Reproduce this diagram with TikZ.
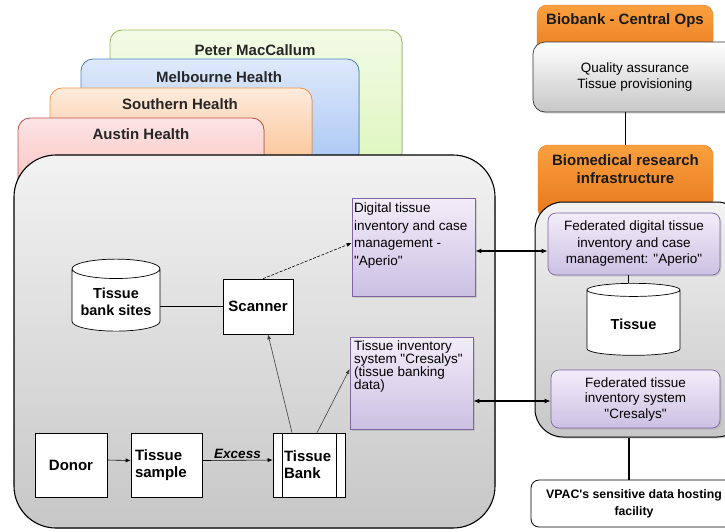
\documentclass[tikz,border=0pt]{standalone}
\usepackage{fontspec}
\setmainfont{Liberation Sans}[Ligatures=TeXOff]
\usetikzlibrary{shapes.geometric,arrows.meta,shadows}
\definecolor{peteredge}{RGB}{155,187,89}
\definecolor{petertop}{RGB}{242,251,230}
\definecolor{peterbot}{RGB}{222,246,190}
\definecolor{melbedge}{RGB}{79,129,189}
\definecolor{melbtop}{RGB}{222,233,250}
\definecolor{melbbot}{RGB}{170,199,245}
\definecolor{southedge}{RGB}{247,150,70}
\definecolor{southtop}{RGB}{253,235,220}
\definecolor{southbot}{RGB}{251,196,150}
\definecolor{austinedge}{RGB}{192,80,77}
\definecolor{austintop}{RGB}{253,228,228}
\definecolor{austinbot}{RGB}{250,190,190}
\definecolor{opstop}{RGB}{250,160,62}
\definecolor{opsbot}{RGB}{230,118,28}
\definecolor{lilacedge}{RGB}{128,100,162}
\definecolor{lilactop}{RGB}{242,237,249}
\definecolor{lilacbot}{RGB}{204,192,227}
\newcommand{\topbox}[3]{\parbox[c][#1][t]{#2}{\raggedright #3}}
\newcommand{\dq}{\symbol{34}}
\tikzset{
  sitetab/.style={rounded corners=12pt, line width=0.8pt},
  tablabel/.style={font=\fontsize{15}{17}\selectfont\bfseries, text=black!85},
  sitebox/.style={draw=black, line width=1.1pt, rounded corners=42pt, top color=black!5, bottom color=black!22},
  plainbox/.style={draw, fill=white, line width=0.6pt, font=\fontsize{15}{17}\selectfont\bfseries},
  lilacbox/.style={draw=lilacedge, top color=lilactop, bottom color=lilacbot, line width=0.7pt,
    drop shadow={opacity=0.25, shadow xshift=1.5pt, shadow yshift=-1.5pt}},
  fedbox/.style={lilacbox, rounded corners=8pt, align=center, font=\fontsize{13.5}{16.5}\selectfont},
  dbcyl/.style={cylinder, shape border rotate=90, aspect=0.25, draw, fill=white, line width=0.7pt,
    align=center, font=\fontsize{14.5}{17}\selectfont\bfseries},
  opstab/.style={rounded corners=10pt, draw=opsbot, top color=opstop, bottom color=opsbot},
  opslabel/.style={align=center, font=\fontsize{15}{18}\selectfont\bfseries, text=black!90},
  link/.style={-{Latex[length=5pt,width=4pt]}, line width=0.6pt},
  biglink/.style={{Latex[length=6pt,width=5pt]}-{Latex[length=6pt,width=5pt]}, line width=1.4pt}
}
\begin{document}
\begin{tikzpicture}[x=1pt,y=-1pt]
\useasboundingbox (0,0) rectangle (725,531);
\clip (0,0) rectangle (725,531);
\filldraw[sitetab, draw=peteredge, top color=petertop, bottom color=peterbot] (110,30) rectangle (402,165);
\filldraw[sitetab, draw=melbedge, top color=melbtop, bottom color=melbbot] (81,59) rectangle (359,165);
\filldraw[sitetab, draw=southedge, top color=southtop, bottom color=southbot] (50,88) rectangle (312,165);
\filldraw[sitetab, draw=austinedge, top color=austintop, bottom color=austinbot] (18,118) rectangle (264,196);
\node[tablabel] (peter) at (255,50) {Peter MacCallum};
\node[tablabel] (melb) at (219,77) {Melbourne Health};
\node[tablabel] (south) at (180,104) {Southern Health};
\node[tablabel] (austin) at (141,134) {Austin Health};
\filldraw[sitebox] (14,155) rectangle (495,528);

\node[dbcyl, minimum width=88pt, minimum height=72pt] (banksites) at (116,302) {Tissue\\bank sites};
\node[plainbox, minimum width=70pt, minimum height=55pt] (scanner) at (258,306.5) {Scanner};
\node[lilacbox, inner xsep=2pt, inner ysep=5pt, font=\fontsize{13.5}{17.5}\selectfont] (digital) at (413.5,247)
  {\topbox{88pt}{119pt}{Digital tissue\\inventory and case\\management -\\\dq Aperio\dq}};
\node[lilacbox, inner xsep=4pt, inner ysep=4pt, font=\fontsize{13.5}{13}\selectfont] (inventory) at (411.5,383)
  {\topbox{84pt}{115pt}{Tissue inventory\\system \dq Cresalys\dq\\(tissue banking\\data)}};
\node[plainbox, minimum width=72pt, minimum height=64pt] (donor) at (71,465) {Donor};
\node[plainbox, minimum height=64pt, text width=63pt, inner xsep=4pt, align=left] (sample) at (166.5,465.5) {Tissue\\sample};
\node[plainbox, minimum height=64pt, text width=50pt, inner xsep=11pt, align=left,
  path picture={
    \draw ([xshift=9pt]path picture bounding box.north west) -- ([xshift=9pt]path picture bounding box.south west);
    \draw ([xshift=-9pt]path picture bounding box.north east) -- ([xshift=-9pt]path picture bounding box.south east);
  }] (bank) at (309,465) {Tissue\\Bank};

\node[opstab, minimum width=176pt, minimum height=60pt] (opstab) at (625,35) {};
\node[opslabel] (ops) at (625,21) {Biobank - Central Ops};
\node[draw=black!80, line width=0.7pt, rounded corners=12pt, top color=white, bottom color=black!22,
  minimum width=204pt, minimum height=70pt, align=center, font=\fontsize{13.5}{16}\selectfont,
  drop shadow={opacity=0.25, shadow xshift=1.5pt, shadow yshift=-1.5pt}] (quality) at (635,77)
  {Quality assurance\\Tissue provisioning};
\node[opstab, minimum width=175pt, minimum height=74pt] (infratab) at (625.5,182) {};
\node[opslabel] (infra) at (625.5,169) {Biomedical research\\infrastructure};
\node[draw=black, line width=1pt, rounded corners=28pt, top color=black!5, bottom color=black!22,
  minimum width=210pt, minimum height=235pt,
  drop shadow={opacity=0.25, shadow xshift=1.5pt, shadow yshift=-1.5pt}] (hub) at (640,319.5) {};
\node[fedbox, minimum width=172pt, minimum height=62pt] (feddigital) at (634,244)
  {Federated digital tissue\\inventory and case\\management: \dq Aperio\dq};
\node[dbcyl, minimum width=93pt, minimum height=72pt] (tissue) at (633.5,324) {Tissue};
\node[fedbox, minimum width=169pt, minimum height=58pt, font=\fontsize{13.5}{15.5}\selectfont] (fedtissue) at (635.5,399)
  {Federated tissue\\inventory system\\\dq Cresalys\dq};
\node[draw, fill=white, line width=0.8pt, rounded corners=8pt, minimum width=206pt, minimum height=47pt,
  align=center, font=\fontsize{12.3}{17}\selectfont\bfseries] (vpac) at (634,503.5)
  {VPAC\symbol{39}s sensitive data hosting\\facility};

\draw[line width=0.6pt] (banksites.east |- scanner.west) -- (scanner.west);
\draw[link, dashed, dash pattern=on 3pt off 1.5pt] ([xshift=5pt]scanner.north) -- ([yshift=4pt]digital.west);
\draw[link] ([yshift=5pt]donor.east) -- ([yshift=5pt]sample.west);
\draw[link] ([yshift=5pt]sample.east) -- ([yshift=5pt]bank.west)
  node[midway, above, inner sep=1.5pt, font=\fontsize{13.5}{16}\selectfont\bfseries\itshape] {Excess};
\draw[link, draw=black!75] ([xshift=-17pt]bank.north) -- ([xshift=10pt]scanner.south);
\draw[link, draw=black!75] ([xshift=8pt]bank.north) -- ([yshift=14pt]inventory.west);
\draw[biglink] ([yshift=-4pt]digital.east) -- ([yshift=-4pt]digital.east -| feddigital.west);
\draw[biglink] ([yshift=-18pt]inventory.east) -- ([yshift=-18pt]inventory.east -| fedtissue.west);
\draw[line width=1.2pt] (infratab.north) -- (infratab.north |- quality.south);
\draw[line width=0.7pt] ([xshift=-5pt]tissue.north) -- ([xshift=-5pt]tissue.north |- feddigital.south);
\draw[line width=1.2pt] ([xshift=-11pt]hub.south) -- ([xshift=-11pt]hub.south |- vpac.north);
\end{tikzpicture}
\end{document}
